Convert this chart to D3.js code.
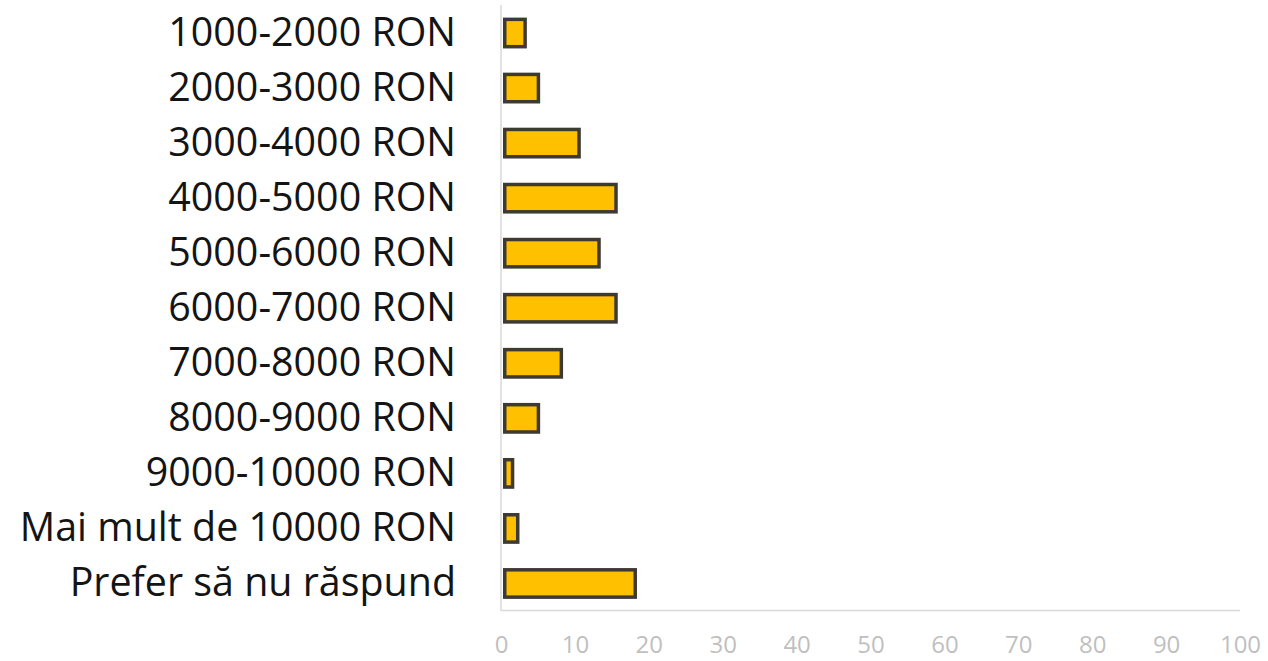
<!DOCTYPE html>
<html><head><meta charset="utf-8">
<script src="https://cdn.jsdelivr.net/npm/d3@7"></script>
<style>html,body{margin:0;padding:0;background:#fff;}svg{display:block;}</style>
</head><body>
<svg id="c" width="1268" height="661"></svg>
<script>
const categories = ["1000-2000 RON","2000-3000 RON","3000-4000 RON","4000-5000 RON","5000-6000 RON","6000-7000 RON","7000-8000 RON","8000-9000 RON","9000-10000 RON","Mai mult de 10000 RON","Prefer să nu răspund"];
const values = [3.5, 5.3, 10.8, 15.8, 13.5, 15.8, 8.4, 5.3, 1.8, 2.5, 18.4];
const tickValues = [0,10,20,30,40,50,60,70,80,90,100];

const svg = d3.select("#c");
const x = d3.scaleLinear().domain([0,100]).range([501,1240]);
const y = d3.scaleBand().domain(categories).range([5.5,611]).paddingInner(0.44).paddingOuter(0.22);

svg.append("line").attr("x1",x(0)).attr("x2",x(0)).attr("y1",5).attr("y2",611)
  .attr("stroke","#d9d9d9").attr("stroke-width",1.5);
svg.append("line").attr("x1",x(0)).attr("x2",x(100)).attr("y1",610.5).attr("y2",610.5)
  .attr("stroke","#d9d9d9").attr("stroke-width",1.5);

const sw = 3.5;
svg.append("g").selectAll("rect").data(categories).join("rect")
  .attr("x", x(0) + 2 + sw/2)
  .attr("y", d => y(d) + sw/2)
  .attr("width", (d,i) => Math.max(0.5, x(values[i]) - x(0) - 2 - sw))
  .attr("height", y.bandwidth() - sw)
  .attr("fill","#ffc000").attr("stroke","#3d3933").attr("stroke-width",sw);

const yAxis = d3.axisLeft(y).tickSize(0).tickPadding(0);
const gy = svg.append("g").attr("transform","translate(456,0)").call(yAxis);
gy.select(".domain").remove();
gy.selectAll("text").attr("font-family","'Open Sans', sans-serif").attr("font-size",39.4).attr("fill","#141414");

const xAxis = d3.axisBottom(x).tickValues(tickValues).tickSize(0).tickPadding(0);
const gx = svg.append("g").attr("transform","translate(0,636)").call(xAxis);
gx.select(".domain").remove();
gx.selectAll("text").attr("font-family","'Open Sans', sans-serif").attr("font-size",24).attr("fill","#bfbfbf").attr("dy","0.71em");
</script>
</body></html>
